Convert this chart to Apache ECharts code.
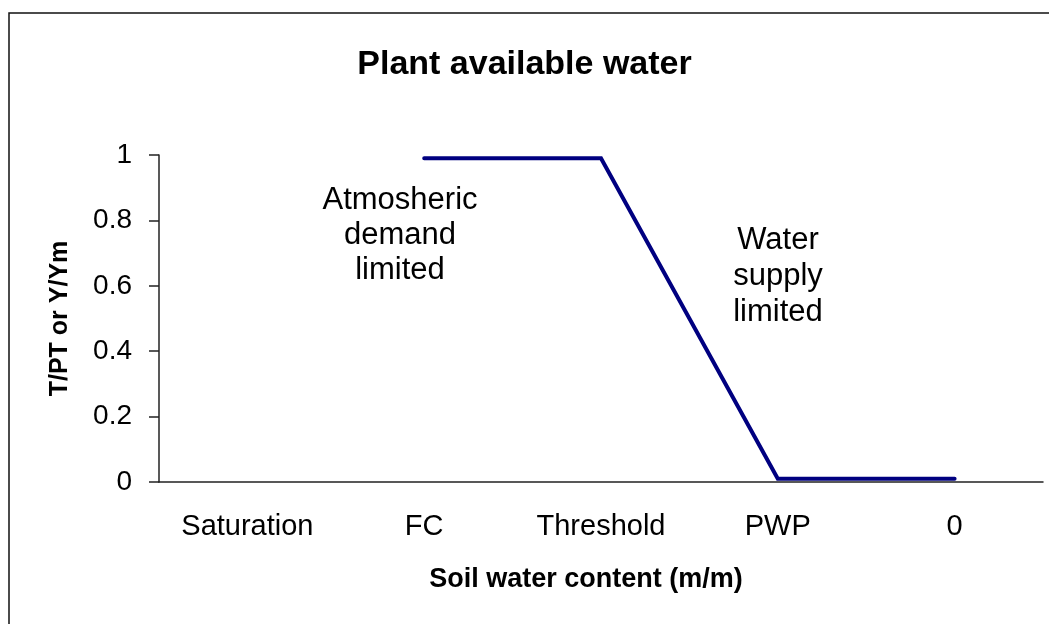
<!DOCTYPE html>
<html>
<head>
<meta charset="utf-8">
<script src="https://cdn.jsdelivr.net/npm/echarts@6/dist/echarts.min.js"></script>
<style>
html,body{margin:0;padding:0;background:#fff;}
#chart{width:1049px;height:624px;}
</style>
</head>
<body>
<div id="chart"></div>
<script>
const categories = ['Saturation', 'FC', 'Threshold', 'PWP', '0'];
const ratioValues = [null, 0.99, 0.99, 0.01, 0.01];
const titleText = 'Plant available water';
const xName = 'Soil water content (m/m)';
const yName = 'T/PT or Y/Ym';
const noteLeft = 'Atmosheric\ndemand\nlimited';
const noteRight = 'Water\nsupply\nlimited';

const FONT = '"Liberation Sans", Arial, sans-serif';
const chart = echarts.init(document.getElementById('chart'), null, {renderer: 'canvas'});
chart.setOption({
  backgroundColor: '#fff',
  animation: false,
  title: {
    text: titleText, left: 'center', top: 43,
    textStyle: {fontFamily: FONT, fontSize: 34, fontWeight: 'bold', color: '#000'}
  },
  grid: {left: 159, right: 6, top: 155, bottom: 142, containLabel: false},
  xAxis: {
    type: 'category', data: categories, boundaryGap: true,
    name: xName, nameLocation: 'middle', nameGap: 84,
    nameTextStyle: {fontFamily: FONT, fontSize: 27, fontWeight: 'bold', color: '#000', padding: [0, 30, 0, 0]},
    axisLine: {lineStyle: {color: '#222', width: 1.5}},
    axisTick: {show: false},
    axisLabel: {fontFamily: FONT, fontSize: 29, color: '#000', margin: 30},
    splitLine: {show: false}
  },
  yAxis: {
    type: 'value', min: 0, max: 1, interval: 0.2,
    name: yName, nameLocation: 'middle', nameGap: 86,
    nameTextStyle: {fontFamily: FONT, fontSize: 25, fontWeight: 'bold', color: '#000'},
    axisLine: {show: true, lineStyle: {color: '#222', width: 1.5}},
    axisTick: {show: true, inside: false, length: 10, lineStyle: {color: '#222', width: 1.5}},
    axisLabel: {fontFamily: FONT, fontSize: 28, color: '#000', margin: 27},
    splitLine: {show: false}
  },
  series: [{
    type: 'line', data: ratioValues, symbol: 'none', connectNulls: false,
    lineStyle: {color: '#000080', width: 4, cap: 'round', join: 'miter'}
  }],
  graphic: [
    {type: 'rect', z: -1, silent: true,
     shape: {x: 9, y: 13, width: 1060, height: 640},
     style: {fill: 'none', stroke: '#111', lineWidth: 1.5}},
    {type: 'text', silent: true, x: 400, y: 183,
     style: {text: noteLeft, font: '31px ' + FONT, fill: '#000', align: 'center', lineHeight: 35}},
    {type: 'text', silent: true, x: 778, y: 222,
     style: {text: noteRight, font: '31px ' + FONT, fill: '#000', align: 'center', lineHeight: 36}}
  ]
});
</script>
</body>
</html>
